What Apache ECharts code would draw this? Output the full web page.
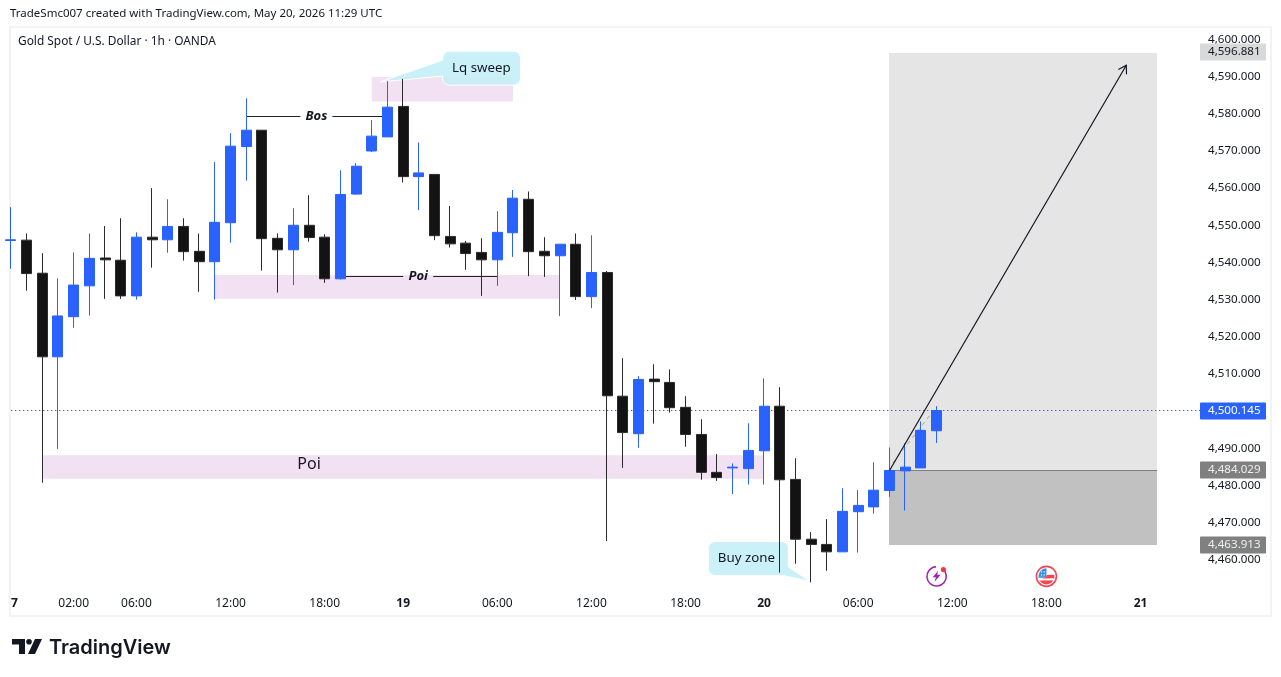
<!DOCTYPE html>
<html><head><meta charset="utf-8">
<style>html,body{margin:0;padding:0;background:#fff}#c{width:1281px;height:677px}</style>
<script src="https://cdn.jsdelivr.net/npm/echarts@6/dist/echarts.min.js"></script>
</head><body><div id="c"></div>
<script>
const tickIndex=[0,4,8,14,20,25,31,37,43,48,54,60,66,72];
const tickText=['7','02:00','06:00','12:00','18:00','19','06:00','12:00','18:00','20','06:00','12:00','18:00','21'];
const dayTicks=['7','19','20','21'];
const opens=[4545.9,4546.0,4537.1,4514.6,4525.4,4533.7,4541.2,4540.6,4531.0,4546.8,4546.1,4549.7,4543.0,4540.2,4550.7,4571.2,4575.6,4546.5,4543.4,4550.0,4546.8,4535.6,4558.4,4570.0,4573.8,4582.0,4563.1,4563.7,4547.0,4545.2,4542.7,4540.7,4548.0,4557.0,4543.0,4541.8,4544.9,4530.8,4537.3,4504.0,4493.9,4508.6,4507.7,4501.0,4493.7,4483.5,4484.7,4484.5,4489.3,4501.3,4481.6,4465.5,4464.1,4462.1,4472.9,4474.2,4478.6,4483.9,4484.7,4494.7];
const closes=[4546.1,4537.0,4514.6,4525.6,4533.9,4541.1,4540.7,4531.0,4546.8,4546.1,4549.7,4542.9,4540.2,4550.8,4571.3,4575.6,4546.4,4543.4,4550.0,4546.7,4535.6,4558.3,4565.9,4574.0,4581.8,4563.1,4564.1,4547.2,4545.0,4542.4,4540.7,4548.1,4557.3,4542.9,4541.8,4544.9,4530.8,4537.3,4504.1,4494.2,4508.5,4507.9,4500.9,4493.7,4483.5,4482.1,4484.9,4489.4,4501.3,4481.5,4465.5,4464.1,4462.1,4473.0,4474.6,4478.7,4484.0,4484.9,4494.8,4500.145];
const lows=[4538.3,4532.4,4480.7,4489.8,4522.4,4525.7,4530.2,4530.2,4530.0,4538.6,4542.6,4540.5,4532.1,4530.0,4545.3,4562.0,4537.8,4531.9,4533.9,4545.6,4534.5,4535.4,4558.2,4569.7,4573.8,4561.5,4554.1,4546.0,4544.0,4538.0,4531.0,4533.7,4541.5,4536.3,4536.1,4525.6,4529.9,4527.7,4465.0,4484.7,4490.1,4496.6,4499.6,4490.4,4481.5,4481.2,4477.7,4480.2,4480.2,4456.5,4458.9,4453.9,4457.0,4462.1,4461.9,4472.4,4476.9,4473.2,4484.7,4491.4];
const highs=[4554.9,4547.8,4542.5,4535.7,4542.7,4547.8,4549.8,4551.9,4548.1,4560.0,4557.0,4551.9,4547.8,4567.0,4574.8,4584.2,4575.6,4547.8,4554.6,4558.1,4547.6,4564.8,4566.7,4578.3,4588.8,4589.4,4572.3,4563.7,4555.2,4545.8,4546.5,4553.8,4559.5,4559.1,4546.8,4544.9,4547.8,4547.3,4537.7,4514.2,4509.4,4512.6,4511.2,4504.0,4497.8,4488.4,4485.9,4496.7,4508.8,4506.4,4487.3,4467.4,4470.9,4479.2,4478.7,4486.2,4490.2,4491.3,4497.2,4501.3];
const candles=opens.map((o,i)=>[o,closes[i],lows[i],highs[i]]);
const slotCount=77;
const categories=Array.from({length:slotCount},(_,i)=>String(i));
const lastPrice=4500.145, target=4596.881, entry=4484.029, stop=4463.913;
const pinkZones=[[23,32,4589.9,4583.3],[13,35,4536.6,4530.2],[2,48,4488.1,4481.8]];
const tradeBox=[56,73];
const arrowLine=[[56,4484.0],[71.09,4593.1]];
const dashLine=[[56.2,4486.0],[58.7,4499.5]];
const labelLines=[{a:15,b:24,p:4579.3,at:19.47,text:'Bos',gap:16},{a:21,b:31,p:4536.2,at:25.96,text:'Poi',gap:15}];
const poiLabel=[19,4485.7,'Poi'];
const callouts=[{text:'Lq sweep',c:[30,4592.3],tip:[23.54,4588.6],kind:'left',w:78},{text:'Buy zone',c:[47,4460.3],tip:[50.95,4454.1],kind:'br',w:80}];
const priceTags=[[target,'#d9d9d9','#131722',1],[lastPrice,'#2962ff','#ffffff',0],[entry,'#808080','#eeeeee',0],[stop,'#808080','#eeeeee',0]];
const eventMarks=[[59,4455.5,'earn'],[66,4455.5,'flag']];

const FONT='"Noto Sans"';
const INK='#131722';
const fmt=v=>v.toLocaleString('en-US',{minimumFractionDigits:3,maximumFractionDigits:3});
const snap=v=>Math.floor(v)+0.5;
// the category axis rounds fractional positions, so a fractional slot is placed between its two neighbours
function at(api,v){const f=Math.floor(v[0]),a=api.coord([f,v[1]]),b=api.coord([f+1,v[1]]);return [a[0]+(v[0]-f)*(b[0]-a[0]),a[1]];}
function seg(x1,y1,x2,y2,stroke,extra){return {type:'line',shape:{x1,y1,x2,y2},style:Object.assign({stroke,lineWidth:1,fill:null},extra||{})};}
function bubblePts(cx,cy,w,h,r,kind,tip){
  const x0=cx-w/2,x1=cx+w/2,y0=cy-h/2,y1=cy+h/2,p=[];
  const arc=(ax,ay,s)=>{for(let k=0;k<=5;k++){const t=s+k/5*Math.PI/2;p.push([ax+r*Math.cos(t),ay+r*Math.sin(t)]);}};
  arc(x1-r,y0+r,-Math.PI/2);
  if(kind==='br'){p.push([x1,cy+8.5]);p.push(tip);p.push([x1-5,y1]);}
  else arc(x1-r,y1-r,0);
  arc(x0+r,y1-r,Math.PI/2);
  if(kind==='left'){p.push([x0,cy+8]);p.push(tip);p.push([x0,cy-8]);}
  arc(x0+r,y0+r,Math.PI);
  return p;
}
function earnIcon(x,y){
  const c='#9c27b0';
  return [
    {type:'arc',shape:{cx:x,cy:y,r:9.7,startAngle:-Math.PI*0.28,endAngle:-Math.PI*0.52,clockwise:true},style:{stroke:c,lineWidth:1.6,fill:null}},
    {type:'polygon',shape:{points:[[x+1.5,y-5.5],[x-4,y+1],[x-0.8,y+1],[x-2,y+5.5],[x+4,y-1.5],[x+0.6,y-1.5]]},style:{fill:c}},
    {type:'circle',shape:{cx:x+6.8,cy:y-6.8,r:2.6},style:{fill:'#f23645'}}
  ];
}
function flagIcon(x,y){
  const red='#f4444f',blue='#2f8fe8';
  return [
    {type:'circle',shape:{cx:x,cy:y,r:10},style:{fill:'#fff',stroke:red,lineWidth:1.6}},
    {type:'sector',shape:{cx:x,cy:y,r0:0,r:8,startAngle:Math.PI,endAngle:Math.PI*1.5},style:{fill:blue}},
    {type:'rect',shape:{x:x-8,y:y-0.2,width:8,height:1.6},style:{fill:blue}},
    {type:'rect',shape:{x:x+0.2,y:y-1.5,width:7.7,height:3.6},style:{fill:red}},
    {type:'sector',shape:{cx:x,cy:y,r0:0,r:8,startAngle:Math.PI*0.17,endAngle:Math.PI*0.83},style:{fill:red}},
    {type:'rect',shape:{x:x-6.5,y:y+2.1,width:13,height:2},style:{fill:'#fff'}},
    {type:'rect',shape:{x:x-5.5,y:y-5,width:1.2,height:1.2},style:{fill:'#fff'}},
    {type:'rect',shape:{x:x-2.8,y:y-5,width:1.2,height:1.2},style:{fill:'#fff'}},
    {type:'rect',shape:{x:x-5.5,y:y-2,width:1.2,height:1.2},style:{fill:'#fff'}},
    {type:'rect',shape:{x:x-2.8,y:y-2,width:1.2,height:1.2},style:{fill:'#fff'}}
  ];
}
const one=[[0,lastPrice]];
const chart=echarts.init(document.getElementById('c'),null,{renderer:'canvas'});
chart.setOption({
  animation:false,
  backgroundColor:'#ffffff',
  textStyle:{fontFamily:FONT},
  grid:{left:10.9,top:28.4,width:76*15.69,height:568.39,containLabel:false},
  xAxis:{type:'category',data:categories,boundaryGap:false,
    axisLine:{show:false},axisTick:{show:false},splitLine:{show:false},
    axisLabel:{margin:1,color:INK,fontSize:12,fontFamily:FONT,hideOverlap:false,showMinLabel:true,
      interval:i=>tickIndex.includes(+i),
      formatter:v=>{const t=tickText[tickIndex.indexOf(+v)];if(t==='7')return '{e|7}';return dayTicks.includes(t)?'{d|'+t+'}':t;},
      rich:{d:{fontWeight:'bold',fontSize:12,color:INK,fontFamily:FONT},e:{fontWeight:'bold',fontSize:12,color:INK,fontFamily:FONT,padding:[0,0,0,7]}}}},
  yAxis:{type:'value',position:'right',min:4450,max:4603,interval:10,scale:true,
    axisLine:{show:false},axisTick:{show:false},splitLine:{show:false},
    axisLabel:{margin:4.7,color:INK,fontSize:11.6,fontFamily:FONT,showMinLabel:false,showMaxLabel:false,formatter:fmt}},
  graphic:[
    {type:'rect',z:0,silent:true,shape:{x:10,y:27,width:1261,height:589},style:{fill:null,stroke:'#f3f3f3',lineWidth:2}},
    {type:'text',x:10,y:14,style:{text:'TradeSmc007 created with TradingView.com, May 20, 2026 11:29 UTC',font:'11.5px '+FONT,fill:INK,verticalAlign:'middle'}},
    {type:'text',x:18,y:41.5,style:{text:'Gold Spot / U.S. Dollar · 1h · OANDA',font:'11.9px '+FONT,fill:INK,verticalAlign:'middle'}},
    {type:'polygon',shape:{points:[[12,639],[25,639],[25,654],[19,654],[19,644.5],[12,644.5]]},style:{fill:INK}},
    {type:'circle',shape:{cx:29,cy:641.7,r:2.8},style:{fill:INK}},
    {type:'polygon',shape:{points:[[35,639],[42,639],[35,654],[28,654]]},style:{fill:INK}},
    {type:'text',x:49,y:648,style:{text:'TradingView',font:'600 20px Inter',fill:INK,verticalAlign:'middle'}}
  ],
  series:[
    {type:'custom',name:'zones',z:1,silent:true,data:pinkZones.map(z=>[z[0],z[2]]),
      renderItem:(p,api)=>{const z=pinkZones[p.dataIndex],a=api.coord([z[0],z[2]]),b=api.coord([z[1],z[3]]);
        return {type:'rect',shape:{x:a[0],y:a[1],width:b[0]-a[0],height:b[1]-a[1]},style:{fill:'#f2e1f3'}};}},
    {type:'custom',name:'position',z:1,silent:true,data:one,
      renderItem:(p,api)=>{
        const l=api.coord([tradeBox[0],target]),e=api.coord([tradeBox[1],entry]),s=api.coord([tradeBox[1],stop]);
        const ly=snap(e[1]),top=Math.ceil(l[1])+1,lx=Math.floor(l[0]),rx=Math.ceil(e[0]);
        const d0=at(api,dashLine[0]),d1=at(api,dashLine[1]);
        return {type:'group',children:[
          {type:'rect',shape:{x:lx,y:top,width:rx-lx,height:ly-top},style:{fill:'#e5e5e5'}},
          {type:'rect',shape:{x:lx,y:ly,width:rx-lx,height:s[1]-ly},style:{fill:'#c1c1c1'}},
          seg(lx,ly,rx,ly,'#808080'),
          seg(d0[0],d0[1],d1[0],d1[1],'#a4a4a4',{lineDash:[4,4]})
        ]};}},
    {type:'custom',name:'lastPrice',z:1,silent:true,data:one,
      renderItem:(p,api)=>{const g=p.coordSys,y=snap(api.coord([0,lastPrice])[1]);
        return seg(Math.round(g.x),y,g.x+g.width,y,'#2962ff',{lineDash:[1.4,2.6]});}},
    {type:'custom',name:'callouts',z:1,silent:true,data:callouts.map(c=>c.c),
      renderItem:(p,api)=>{const c=callouts[p.dataIndex],m=api.coord(c.c),tip=at(api,c.tip);
        return {type:'group',children:[
          {type:'polygon',shape:{points:bubblePts(m[0],m[1],c.w,34,7,c.kind,tip)},style:{fill:'rgba(196,240,246,0.9)',stroke:'#ffffff',lineWidth:1}},
          {type:'text',x:m[0]-c.w/2+9.5,y:m[1],style:{text:c.text,font:'13.3px '+FONT,fill:INK,align:'left',verticalAlign:'middle'}}
        ]};}},
    {type:'custom',name:'labelLines',z:1,silent:true,data:labelLines.map(l=>[l.a,l.p]),
      renderItem:(p,api)=>{const l=labelLines[p.dataIndex],a=api.coord([l.a,l.p]),b=api.coord([l.b,l.p]),m=at(api,[l.at,l.p]),y=snap(a[1]);
        return {type:'group',children:[
          seg(a[0],y,m[0]-l.gap,y,'#222222'),seg(m[0]+l.gap,y,b[0],y,'#222222'),
          {type:'text',x:m[0],y:y,style:{text:l.text,font:'italic bold 13px '+FONT,fill:INK,align:'center',verticalAlign:'middle'}}
        ]};}},
    {type:'custom',name:'poiLabel',z:1,silent:true,data:[poiLabel.slice(0,2)],
      renderItem:(p,api)=>{const m=api.coord(poiLabel);
        return {type:'text',x:m[0],y:m[1],style:{text:poiLabel[2],font:'16px '+FONT,fill:INK,align:'center',verticalAlign:'middle'}};}},
    {type:'candlestick',name:'XAUUSD',z:3,silent:true,data:candles,barWidth:10.5,clip:true,
      itemStyle:{color:'#2962ff',color0:'#131313',borderColor:'#2962ff',borderColor0:'#2b2b2b',borderWidth:1}},
    {type:'custom',name:'arrow',z:4,silent:true,data:one,
      renderItem:(p,api)=>{const a=at(api,arrowLine[0]),b=at(api,arrowLine[1]),t=Math.atan2(b[1]-a[1],b[0]-a[0]),L=9,w=0.55;
        return {type:'group',children:[
          seg(a[0],a[1],b[0],b[1],INK,{lineWidth:1.2}),
          {type:'polyline',shape:{points:[[b[0]-L*Math.cos(t-w),b[1]-L*Math.sin(t-w)],b,[b[0]-L*Math.cos(t+w),b[1]-L*Math.sin(t+w)]]},style:{stroke:INK,lineWidth:1.2,fill:null}}
        ]};}},
    {type:'custom',name:'events',z:4,silent:true,data:eventMarks.map(e=>[e[0],e[1]]),
      renderItem:(p,api)=>{const e=eventMarks[p.dataIndex],m=api.coord(e);
        return {type:'group',children:e[2]==='earn'?earnIcon(m[0],m[1]):flagIcon(m[0],m[1])};}},
    {type:'custom',name:'tags',z:5,silent:true,data:priceTags.map(t=>[0,t[0]]),
      renderItem:(p,api)=>{const t=priceTags[p.dataIndex],y=Math.round(api.coord([0,t[0]])[1])+t[3],x=1200;
        return {type:'group',children:[
          {type:'rect',shape:{x:x,y:y-8.5,width:66,height:17,r:1},style:{fill:t[1]}},
          {type:'text',x:x+8,y:y,style:{text:fmt(t[0]),font:'11.6px '+FONT,fill:t[2],verticalAlign:'middle'}}
        ]};}}
  ]
});
</script></body></html>
